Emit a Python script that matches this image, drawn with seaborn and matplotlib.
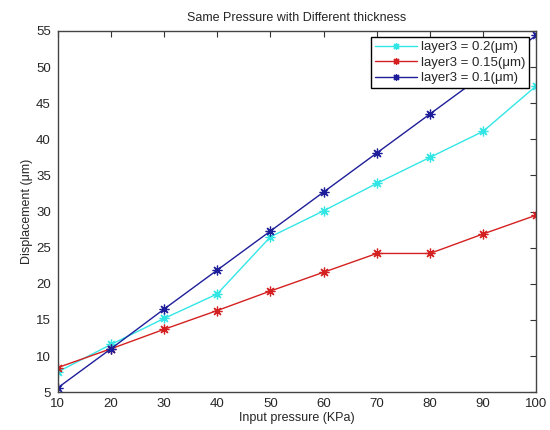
import pandas as pd
import matplotlib
matplotlib.use('Agg')
import matplotlib.pyplot as plt
import seaborn as sns

# 데이터
pressure = [10, 20, 30, 40, 50, 60, 70, 80, 90, 100]
layer_02 = [7.8, 11.6, 15.2, 18.6, 26.5, 30.1, 33.9, 37.5, 41.1, 47.4]
layer_015 = [8.4, 11.0, 13.7, 16.3, 19.0, 21.6, 24.2, 24.2, 26.9, 29.5]
layer_01 = [5.6, 11.0, 16.5, 21.9, 27.3, 32.7, 38.1, 43.5, 48.9, 54.4]
labels = ['layer3 = 0.2(μm)', 'layer3 = 0.15(μm)', 'layer3 = 0.1(μm)']
colors = ['#33e6e6', '#d42020', '#1e1e9a']

df = pd.DataFrame({'pressure': pressure, labels[0]: layer_02,
                   labels[1]: layer_015, labels[2]: layer_01})
long_df = df.melt(id_vars='pressure', var_name='series', value_name='disp')

sns.set_style('white')
plt.rcParams['font.family'] = ['Liberation Sans', 'DejaVu Sans']

fig = plt.figure(figsize=(5.5, 4.3), dpi=100)
ax = fig.add_axes([0.105, 0.088, 0.87, 0.84])

sns.lineplot(data=long_df, x='pressure', y='disp', hue='series',
             hue_order=labels, palette=colors, marker=(8, 2, 0),
             markersize=7, markeredgewidth=0.9, linewidth=1.0, ax=ax)

# 마커 테두리 색을 선 색과 같게
for line in ax.lines:
    line.set_markeredgecolor(line.get_color())

ax.set_xlim(10, 100)
ax.set_ylim(5, 55)
ax.set_xticks(range(10, 101, 10))
ax.set_yticks(range(5, 56, 5))
ax.tick_params(direction='in', top=True, right=True, length=4,
               labelsize=9.5, color='#333333', width=0.8)
ax.tick_params(axis='y', pad=5)
ax.tick_params(axis='x', pad=4)
for s in ax.spines.values():
    s.set_color('#444444')
    s.set_linewidth(1.0)

ax.set_title('Same Pressure with Different thickness', fontsize=9, pad=7)
ax.set_xlabel('Input pressure (KPa)', fontsize=9, labelpad=2)
ax.set_ylabel('Displacement (μm)', fontsize=9, labelpad=2)

leg = ax.legend(loc='upper right', bbox_to_anchor=(0.985, 0.983),
                fontsize=9.5, fancybox=False, framealpha=1,
                edgecolor='black', borderpad=0.3, labelspacing=0.25,
                handlelength=3.2, handletextpad=0.3, borderaxespad=0)
leg.get_frame().set_linewidth(1.0)
for h in leg.legend_handles:
    h.set_markeredgecolor(h.get_color())
    h.set_markersize(5)

plt.savefig('out.png', dpi=100)
